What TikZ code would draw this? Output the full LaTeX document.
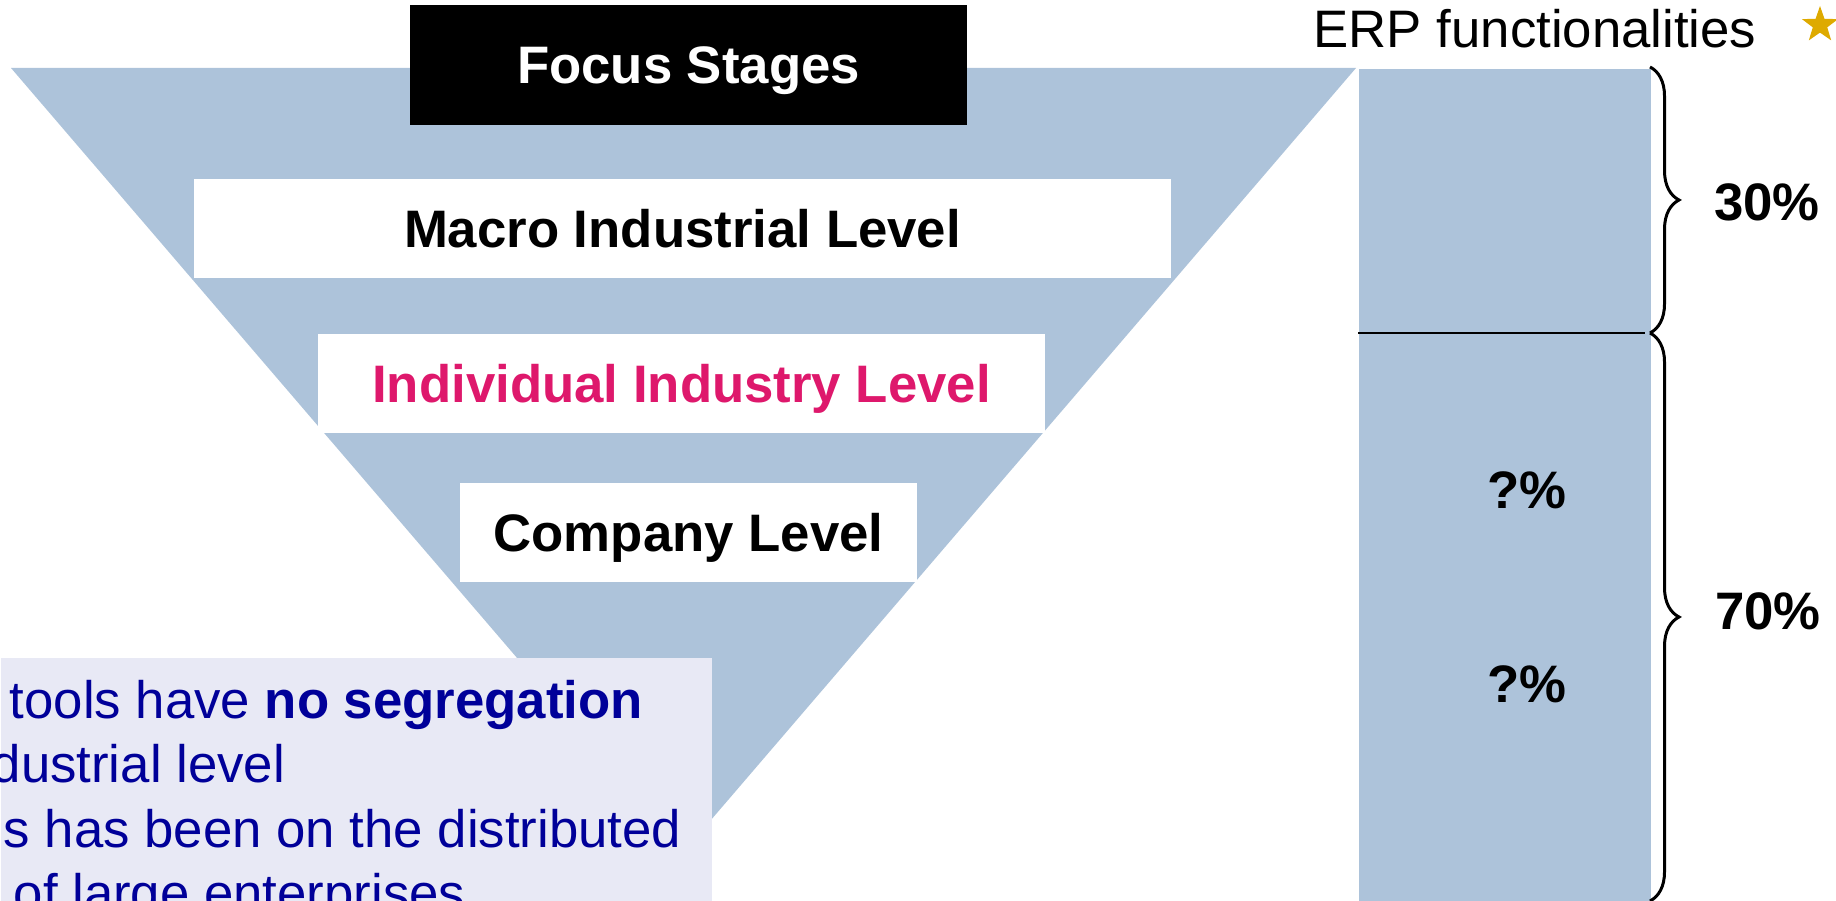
\documentclass[tikz,border=0pt]{standalone}
\usepackage{fontspec}
\setmainfont{Liberation Sans}
\usetikzlibrary{shapes.geometric,decorations.pathreplacing}
\definecolor{stageblue}{RGB}{173,195,218}
\definecolor{notebg}{RGB}{232,233,245}
\definecolor{notetext}{RGB}{0,0,153}
\definecolor{pinklvl}{RGB}{222,24,108}
\definecolor{goldstar}{RGB}{222,170,0}
\begin{document}
\begin{tikzpicture}
	[x=0.01cm,y=-0.01cm,
	lvl/.style={fill=white,minimum height=0.99cm,inner sep=0pt,text height=10.8pt,text depth=0pt,font=\fontsize{15}{18}\selectfont\bfseries},
	pct/.style={inner sep=0pt,font=\fontsize{15}{18}\selectfont\bfseries},
	noteline/.style={anchor=base west,inner sep=0pt,text=notetext,font=\fontsize{15}{18}\selectfont},
	curly/.style={decorate,decoration={brace,amplitude=0.29cm},line width=0.85pt}]
	\useasboundingbox(0,0)rectangle(1836,901);
	\clip(0,0)rectangle(1836,901);
	% funnel
	\coordinate(tl)at(11,68);
	\coordinate(tr)at(1356,68);
	\coordinate(apex)at(683.5,852);
	\fill[stageblue](tl)--(tr)--(apex)--cycle;
	\node[lvl,name=focus,fill=black,text=white,minimum width=5.57cm,minimum height=1.2cm]at(688.5,65){Focus Stages};
	\node[lvl,name=macro,minimum width=9.77cm]at(682.5,228.5){Macro Industrial Level};
	\node[lvl,name=indiv,minimum width=7.26cm,text=pinklvl]at(681.5,383.5){Individual Industry Level};
	\node[lvl,name=company,minimum width=4.57cm]at(688.5,532.5){Company Level};
	% note box
	\node[name=note,anchor=north west,fill=notebg,minimum width=7.11cm,minimum height=2.5cm,inner sep=0pt]at(0,657){};
	\node[noteline,name=l1]at(9,719){tools have \textbf{no segregation}};
	\node[noteline,name=l2]at(-9,783){dustrial level};
	\node[noteline,name=l3]at(3,848){s has been on the distributed};
	\node[noteline,name=l4]at(13,912){of large enterprises};
	% ERP bar
	\node[name=bar,anchor=north west,fill=stageblue,minimum width=2.92cm,minimum height=8.4cm,inner sep=0pt]at(1358,68){};
	\coordinate(d1)at(1358,333);
	\coordinate(d2)at(1645,333);
	\draw[line width=0.8pt](d1)--(d2);
	\coordinate(b1)at(1650,67);
	\coordinate(b2)at(1650,333);
	\coordinate(b3)at(1650,901);
	\draw[curly](b1)--(b2);
	\draw[curly](b2)--(b3);
	\node[pct,name=p30]at(1767,202){30\%};
	\node[pct,name=p70]at(1768,611){70\%};
	\node[pct,name=q1]at(1527,490){?\%};
	\node[pct,name=q2]at(1527,684){?\%};
	\node[anchor=base west,inner sep=0pt,name=erp,font=\fontsize{15}{18}\selectfont]at(1313,48){ERP functionalities};
	\node[star,star points=5,star point ratio=2.5,fill=goldstar,minimum size=0.38cm,inner sep=0pt,name=mark]at(1820,25){};
\end{tikzpicture}
\end{document}
